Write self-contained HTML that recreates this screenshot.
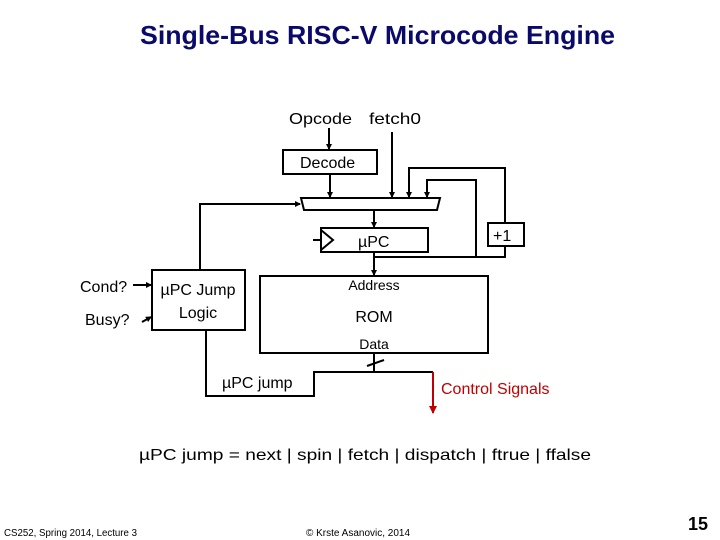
<!DOCTYPE html>
<html><head><meta charset="utf-8"><style>
html,body{margin:0;padding:0;background:#fff}
svg{display:block}
text{font-family:"Liberation Sans",sans-serif}
</style></head><body>
<svg width="720" height="540" viewBox="0 0 720 540" xmlns="http://www.w3.org/2000/svg">
<defs>
<marker id="a" markerWidth="6" markerHeight="6" refX="5" refY="3" orient="auto" markerUnits="userSpaceOnUse"><path d="M0,0 L6,3 L0,6 z" fill="#000"/></marker>
<marker id="r" markerWidth="8" markerHeight="8" refX="7" refY="4" orient="auto" markerUnits="userSpaceOnUse"><path d="M0,0 L8,4 L0,8 z" fill="#c00000"/></marker>
</defs>
<text x="140" y="44" font-size="26" font-weight="bold" fill="#0a0a6a" textLength="475" lengthAdjust="spacingAndGlyphs">Single-Bus RISC-V Microcode Engine</text>
<g fill="none" stroke="#000" stroke-width="2">
<text x="289" y="124" font-size="16" fill="#000" stroke="none" textLength="63" lengthAdjust="spacingAndGlyphs">Opcode</text>
<text x="369" y="124" font-size="16" fill="#000" stroke="none" textLength="52" lengthAdjust="spacingAndGlyphs">fetch0</text>
<line x1="329" y1="128" x2="329" y2="149" marker-end="url(#a)"/>
<line x1="392" y1="132" x2="392" y2="197" marker-end="url(#a)"/>
<rect x="283" y="150" width="94" height="24"/>
<text x="300" y="168" font-size="16" fill="#000" stroke="none">Decode</text>
<line x1="330" y1="174" x2="330" y2="197" marker-end="url(#a)"/>
<polygon points="301,198 440,198 437,210 304,210"/>
<polyline points="409,190 409,168 505,168 505,223"/>
<polyline points="427,190 427,180 476,180 476,257"/>
<line x1="427" y1="182" x2="427" y2="197" marker-end="url(#a)"/>
<line x1="409" y1="170" x2="409" y2="197" marker-end="url(#a)"/>
<rect x="488" y="223" width="36" height="23"/>
<text x="493" y="241" font-size="16" fill="#000" stroke="none">+1</text>
<polyline points="505,246 505,257 374,257"/>
<line x1="374" y1="210" x2="374" y2="227" marker-end="url(#a)"/>
<rect x="321" y="228" width="107" height="24"/>
<polyline points="321,230 333,240 321,250"/>
<line x1="313" y1="240" x2="321" y2="240"/>
<text x="358" y="247" font-size="16" fill="#000" stroke="none">µPC</text>
<line x1="374" y1="252" x2="374" y2="275" marker-end="url(#a)"/>
<rect x="260" y="276" width="228" height="77"/>
<text x="374" y="290" font-size="14" fill="#000" stroke="none" text-anchor="middle">Address</text>
<text x="374" y="322" font-size="16" fill="#000" stroke="none" text-anchor="middle">ROM</text>
<text x="374" y="349" font-size="14" fill="#000" stroke="none" text-anchor="middle">Data</text>
<line x1="374" y1="353" x2="374" y2="372"/>
<line x1="367" y1="366" x2="384" y2="360"/>
<rect x="152" y="270" width="93" height="60"/>
<text x="198" y="295" font-size="16" fill="#000" stroke="none" text-anchor="middle">µPC Jump</text>
<text x="198" y="318" font-size="16" fill="#000" stroke="none" text-anchor="middle">Logic</text>
<polyline points="200,270 200,204 300,204" marker-end="url(#a)"/>
<polyline points="206,330 206,396 314,396 314,372 433,372"/>
<text x="222" y="388" font-size="16" fill="#000" stroke="none">µPC jump</text>
<line x1="133" y1="285" x2="151" y2="285" marker-end="url(#a)"/>
<line x1="142" y1="322" x2="151" y2="317" marker-end="url(#a)"/>
</g>
<line x1="433" y1="372" x2="433" y2="413" stroke="#c00000" stroke-width="2" marker-end="url(#r)"/>
<text x="441" y="394" font-size="16" fill="#c00000">Control Signals</text>
<text x="80" y="292" font-size="16" fill="#000">Cond?</text>
<text x="85" y="325" font-size="16" fill="#000">Busy?</text>
<text x="139" y="460" font-size="16" fill="#000" textLength="452" lengthAdjust="spacingAndGlyphs">µPC jump = next | spin | fetch | dispatch | ftrue | ffalse</text>
<text x="4" y="536" font-size="10" fill="#000" textLength="133" lengthAdjust="spacingAndGlyphs">CS252, Spring 2014, Lecture 3</text>
<text x="306" y="536" font-size="10" fill="#000" textLength="104" lengthAdjust="spacingAndGlyphs">© Krste Asanovic, 2014</text>
<text x="688" y="530" font-size="18" font-weight="bold" fill="#000">15</text>
</svg>
</body></html>
